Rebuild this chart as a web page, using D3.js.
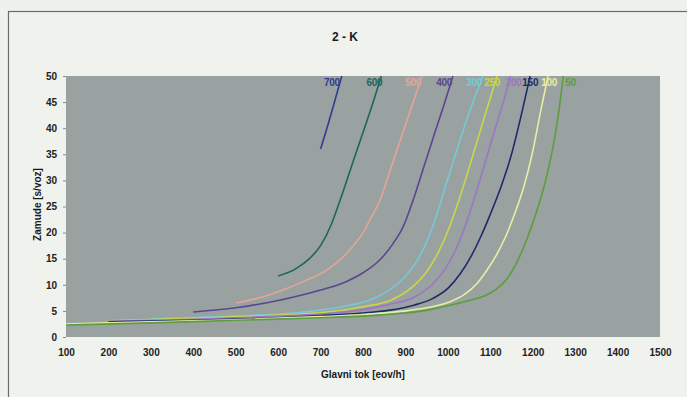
<!DOCTYPE html>
<html>
<head>
<meta charset="utf-8">
<script src="https://cdn.jsdelivr.net/npm/d3@7"></script>
<style>
  body { margin: 0; background: #eef1ec; }
  #chart { width: 687px; height: 397px; }
</style>
</head>
<body>
<div id="chart"></div>
<script>
'use strict';

// Data: [glavni tok (eov/h), zamuda (s/voz)] per curve
var seriesNames = ['700', '600', '500', '400', '300', '250', '200', '150', '100', '50']

var s700 = [[700,36],[715,40],[729,43.9],[750,50]]
var s600 = [[600,11.7],[640,13],[675,15.1],[700,17.5],[725,21.5],[746,26.2],[770,32],[795,38],[820,44],[843,50]]
var s500 = [[500,6.5],[560,7.6],[611,9.0],[665,10.8],[715,12.8],[769,16.7],[800,20],[820,23],[840,26.2],[865,32.2],[890,38.2],[915,44.2],[939,50]]
var s400 = [[400,4.8],[500,5.6],[600,7.0],[700,9.0],[760,10.6],[800,12.3],[840,14.8],[870,17.8],[895,21.2],[918,26.2],[945,33],[970,39.3],[993,45],[1012,50]]
var s300 = [[300,3.5],[500,4.0],[650,4.7],[750,5.8],[820,7.2],[860,8.9],[895,11.2],[925,14.3],[950,18.2],[972,23],[993,28.5],[1015,34.2],[1040,40.5],[1062,45.6],[1083,50]]
var s250 = [[200,3.1],[400,3.6],[600,4.2],[715,4.8],[800,5.8],[870,7.2],[915,9.5],[950,12.5],[978,16.3],[1002,20.7],[1024,25.7],[1046,31.3],[1070,37.8],[1094,44.2],[1116,50]]
var s200 = [[200,3.0],[400,3.4],[600,4.0],[700,4.4],[790,5.1],[860,6.2],[925,7.8],[965,10.2],[995,13.2],[1020,17],[1042,21.5],[1064,27],[1087,33.2],[1110,39.5],[1130,44.8],[1148,50]]
var s150 = [[200,2.9],[400,3.2],[600,3.7],[700,4.1],[800,4.6],[860,5.1],[920,6.1],[965,7.4],[1000,9.3],[1030,12.2],[1055,15.5],[1078,19.3],[1100,23.5],[1124,28.5],[1150,35],[1173,42.5],[1194,50]]
var s100 = [[100,2.5],[300,2.9],[500,3.3],[700,3.9],[800,4.3],[900,5.0],[950,5.6],[1000,6.6],[1040,8.2],[1068,10.2],[1092,12.8],[1115,15.8],[1136,19.2],[1157,23.5],[1178,28.5],[1200,35.5],[1218,43],[1236,50]]
var s50 = [[100,2.3],[300,2.7],[500,3.2],[700,3.7],[800,4.0],[900,4.6],[950,5.1],[1000,6.0],[1050,7.0],[1090,8.0],[1115,9.2],[1140,11.2],[1162,14.2],[1185,18.5],[1207,23.5],[1228,29.2],[1248,36.5],[1262,43.5],[1272,50]]

var seriesValues = [s700, s600, s500, s400, s300, s250, s200, s150, s100, s50]

var xTicks = [100, 200, 300, 400, 500, 600, 700, 800, 900, 1000, 1100, 1200, 1300, 1400, 1500]
var yTicks = [0, 5, 10, 15, 20, 25, 30, 35, 40, 45, 50]

var colorize = function(name){
  if (name=='700') return '#2e3d8f'
  if (name=='600') return '#1f6656'
  if (name=='500') return '#e2a697'
  if (name=='400') return '#5b4590'
  if (name=='300') return '#74cad6'
  if (name=='250') return '#c9d845'
  if (name=='200') return '#9c76c4'
  if (name=='150') return '#1f2a6c'
  if (name=='100') return '#e6eea2'
  if (name=='50') return '#5b9e3c'
  return '#ff699b'
}

// label nudges relative to the top end of each curve
var labelShift = function(name){
  if (name=='700') return -2
  if (name=='600') return 1
  if (name=='250') return 3
  if (name=='200') return 11
  if (name=='150') return 8
  if (name=='100') return 9
  if (name=='50') return 2
  return -1
}

var margin = {top: 76, right: 27, bottom: 60, left: 66}
var W = 687, H = 397
var width = W - margin.left - margin.right
var height = H - margin.top - margin.bottom

var x = d3.scaleLinear().domain([100, 1500]).range([0, width])
var y = d3.scaleLinear().domain([0, 50]).range([height, 0])

var svg = d3.select('#chart').append('svg')
  .attr('width', W)
  .attr('height', H)
  .style('font-family', '"Liberation Sans", Arial, sans-serif')

// Frame around the figure
svg.append('rect')
  .attr('x', 8.5)
  .attr('y', 11.5)
  .attr('width', 720)
  .attr('height', 420)
  .style('fill', '#f0f2ee')
  .style('stroke', '#6a6d6a')
  .style('stroke-width', 1.2)

svg.append('text')
  .attr('x', 345)
  .attr('y', 41)
  .style('text-anchor', 'middle')
  .style('font-size', '12px')
  .style('font-weight', 'bold')
  .style('fill', '#1a1a1a')
  .text('2 - K')

var g = svg.append('g')
  .attr('transform', 'translate(' + margin.left + ',' + margin.top + ')')

g.append('rect')
  .attr('width', width)
  .attr('height', height)
  .style('fill', '#99a2a1')

g.append('g')
  .attr('class', 'axis axis--x')
  .attr('transform', 'translate(0,' + height + ')')
  .call(d3.axisBottom(x).tickValues(xTicks).tickFormat(d3.format('d')).tickSize(0).tickPadding(12))

g.append('g')
  .attr('class', 'axis axis--y')
  .call(d3.axisLeft(y).tickValues(yTicks).tickFormat(d3.format('d')).tickSize(3).tickPadding(6))

g.selectAll('.axis path').style('stroke', 'none')
g.selectAll('.axis line').style('stroke', '#888')
g.selectAll('.axis text')
  .style('font-family', '"Liberation Sans", Arial, sans-serif')
  .style('font-size', '10px')
  .style('font-weight', 'bold')
  .style('fill', '#222')

var line = d3.line()
  .curve(d3.curveMonotoneX)
  .x(function(d) { return x(d[0]) })
  .y(function(d) { return y(d[1]) })

var curves = seriesNames.map(function(name, i){
  return {name: name, values: seriesValues[i]}
})

var curve = g.selectAll('.curve')
  .data(curves)
  .enter().append('g')
    .attr('class', 'curve')

curve.append('path')
  .attr('class', 'line')
  .attr('d', function(d) { return line(d.values) })
  .style('stroke', function(d) { return colorize(d.name) })
  .style('stroke-width', '1.6px')
  .style('fill', 'none')

curve.append('text')
  .datum(function(d) { return {name: d.name, value: d.values[d.values.length - 1]} })
  .attr('x', function(d) { return x(d.value[0]) + labelShift(d.name) })
  .attr('y', y(48))
  .style('text-anchor', function(d) { return d.name=='50' ? 'start' : 'end' })
  .style('font-size', '10px')
  .style('font-weight', 'bold')
  .style('letter-spacing', '-0.3px')
  .style('fill', function(d) { return colorize(d.name) })
  .text(function(d) { return d.name })

svg.append('text')
  .attr('x', margin.left + width / 2)
  .attr('y', 378)
  .style('text-anchor', 'middle')
  .style('font-size', '10px')
  .style('font-weight', 'bold')
  .style('fill', '#1a1a1a')
  .text('Glavni tok [eov/h]')

svg.append('text')
  .attr('transform', 'translate(41,' + (margin.top + height / 2 - 2) + ') rotate(-90)')
  .style('text-anchor', 'middle')
  .style('font-size', '10px')
  .style('font-weight', 'bold')
  .style('fill', '#1a1a1a')
  .text('Zamude [s/voz]')
</script>
</body>
</html>
